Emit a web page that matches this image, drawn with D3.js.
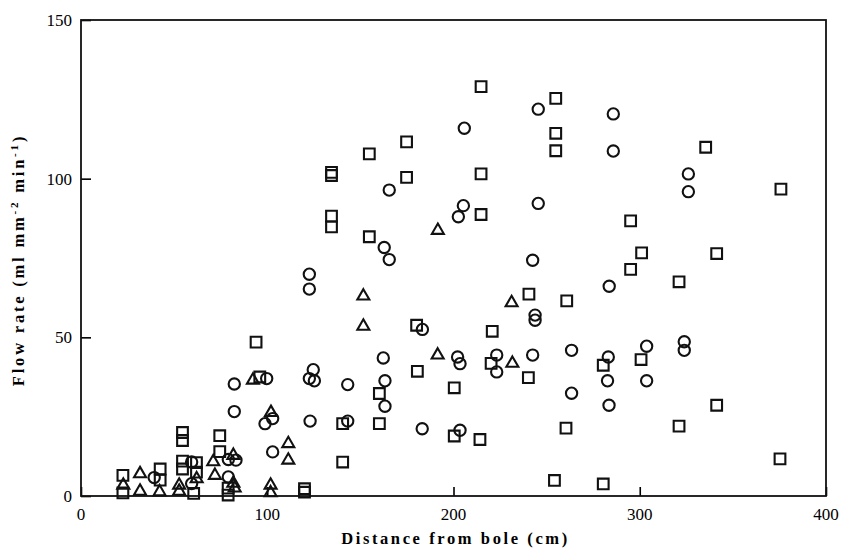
<!DOCTYPE html>
<html>
<head>
<meta charset="utf-8">
<script src="https://cdn.jsdelivr.net/npm/d3@7"></script>
<style>
  body { margin: 0; background: #fff; }
  svg { display: block; }
</style>
</head>
<body>
<div id="chart"></div>
<script>
// distance from bole (cm), flow rate (ml mm-2 min-1)
var squares = [
  [22.5, 6.5], [22.5, 1], [42.5, 8.5], [42.5, 5], [54.5, 20], [54.5, 17.5], [54.5, 11], [54.5, 8.5],
  [62, 10.5], [62, 7.5], [60.5, 0.8], [74.5, 19], [74.5, 14], [79, 2.5], [79, 0.3],
  [94, 48.5], [96, 37.5], [120, 2.3], [120, 1.2],
  [134.5, 102], [134.5, 101], [134.5, 88.2], [134.5, 84.8], [140.5, 22.8], [140.5, 10.7],
  [154.8, 107.8], [154.8, 81.7], [160.2, 32.3], [160.2, 22.8], [174.8, 111.6], [174.8, 100.4],
  [180.2, 53.8], [180.6, 39.3], [200.4, 34.1], [200.4, 18.9], [214.8, 129], [214.8, 101.5],
  [214.8, 88.7], [214.2, 17.8], [220.8, 51.9], [220.2, 41.8], [240.5, 63.6], [240.2, 37.3],
  [254.9, 125.3], [254.9, 114.3], [254.9, 108.8], [254.2, 4.9], [260.8, 61.5], [260.4, 21.4],
  [280.4, 41.2], [280.4, 3.8], [295.1, 86.7], [295.1, 71.4], [301, 76.6], [300.7, 43],
  [321.1, 67.5], [321.1, 22], [335.4, 109.9], [341.3, 76.4], [341.3, 28.6], [375.8, 96.7], [375.3, 11.7]
];

var circles = [
  [39.3, 5.8], [59.4, 10.7], [59.4, 3.9], [79.1, 11.5], [83.2, 11.3], [79.1, 6.0],
  [82.3, 35.3], [82.3, 26.6], [99.7, 37], [98.8, 22.8], [102.9, 24.4], [102.9, 13.9],
  [122.6, 69.9], [122.6, 65.2], [124.7, 39.8], [122.6, 37], [125.3, 36.3], [123, 23.6],
  [143.2, 35.1], [143.2, 23.6], [162.3, 43.5], [163.2, 36.3], [163.2, 28.3], [162.8, 78.3],
  [165.5, 74.5], [165.5, 96.4], [183.3, 52.5], [183.2, 21.2], [202.2, 43.8], [203.5, 41.7],
  [203.5, 20.7], [202.6, 88], [205.3, 91.5], [205.8, 115.9], [223.2, 44.4], [223.2, 39.1],
  [242.5, 44.4], [243.8, 57], [243.8, 55.4], [242.5, 74.3], [245.5, 92.2], [245.5, 121.9],
  [263.4, 45.9], [263.4, 32.4], [283.1, 43.8], [282.7, 36.3], [283.5, 28.6], [283.6, 66.1],
  [285.8, 108.7], [285.8, 120.4], [303.7, 47.2], [303.7, 36.3], [323.9, 48.6], [323.9, 45.9],
  [326.1, 101.5], [326.1, 95.9]
];

var triangles = [
  [22.7, 3.4], [31.7, 7], [31.7, 1.5], [42.2, 1.3], [52.7, 3.4], [52.7, 1.5], [62.1, 5.4],
  [71, 10.8], [71.9, 6.5], [81.8, 12.8], [81.8, 4], [82.5, 2.5], [92.3, 36.5], [102, 26.3],
  [101.8, 3.4], [101.8, 1.0], [111.3, 16.5], [111.3, 11.3], [151.6, 63], [151.6, 53.5],
  [191.6, 83.7], [191.5, 44.4], [231.2, 60.9], [231.6, 41.8]
];

var xTicks = [0, 100, 200, 300, 400];
var yTicks = [0, 50, 100, 150];

const margin = {top: 20, right: 15, bottom: 53, left: 81},
    width = 841 - margin.left - margin.right,
    height = 549 - margin.top - margin.bottom;

const svg = d3.select("#chart")
  .append("svg")
    .attr("width", 841)
    .attr("height", 549)
  .append("g")
    .attr("transform", `translate(${margin.left},${margin.top})`);

const x = d3.scaleLinear().domain([0, 400]).range([0, width]);
const y = d3.scaleLinear().domain([0, 150]).range([height, 0]);

const serif = "'Liberation Serif', 'DejaVu Serif', serif";

// inward ticks, labels drawn separately
svg.append("g")
  .attr("transform", `translate(0,${height})`)
  .call(d3.axisBottom(x).tickValues(xTicks).tickSize(-9).tickFormat(""))
  .call(g => g.select(".domain").remove())
  .call(g => g.selectAll("line").attr("stroke-width", 1.6));

svg.append("g")
  .call(d3.axisLeft(y).tickValues(yTicks).tickSize(-10).tickFormat(""))
  .call(g => g.select(".domain").remove())
  .call(g => g.selectAll("line").attr("stroke-width", 1.6));

// frame
svg.append("rect")
  .attr("x", 0).attr("y", 0)
  .attr("width", width).attr("height", height)
  .attr("fill", "none")
  .attr("stroke", "#111")
  .attr("stroke-width", 1.8);

// tick labels
svg.append("g").selectAll("text")
  .data(xTicks)
  .join("text")
    .attr("x", d => x(d))
    .attr("y", height + 24)
    .attr("text-anchor", "middle")
    .attr("font-family", serif)
    .attr("font-size", 17)
    .text(d => d);

svg.append("g").selectAll("text")
  .data(yTicks)
  .join("text")
    .attr("x", -9)
    .attr("y", d => y(d) + 6)
    .attr("text-anchor", "end")
    .attr("font-family", serif)
    .attr("font-size", 17)
    .text(d => d);

// axis titles
svg.append("text")
  .attr("x", width / 2 + 2)
  .attr("y", height + 48)
  .attr("text-anchor", "middle")
  .attr("font-family", serif)
  .attr("font-weight", "bold")
  .attr("font-size", 16.5)
  .attr("letter-spacing", 2.6)
  .text("Distance from bole (cm)");

const yt = svg.append("text")
  .attr("transform", `translate(${-57},${height / 2 + 2}) rotate(-90)`)
  .attr("text-anchor", "middle")
  .attr("font-family", serif)
  .attr("font-weight", "bold")
  .attr("font-size", 16.5)
  .attr("letter-spacing", 2.8);
yt.append("tspan").text("Flow rate (ml mm");
yt.append("tspan").attr("dy", -6).attr("font-size", 11).text("-2");
yt.append("tspan").attr("dy", 6).text(" min");
yt.append("tspan").attr("dy", -6).attr("font-size", 11).text("-1");
yt.append("tspan").attr("dy", 6).text(")");

// markers
function drawSeries(data, type, size) {
  svg.append("g").selectAll("path")
    .data(data)
    .join("path")
      .attr("transform", d => `translate(${x(d[0])},${y(d[1])})`)
      .attr("d", d3.symbol().type(type).size(size))
      .attr("fill", "none")
      .attr("stroke", "#111")
      .attr("stroke-width", 2.1);
}

drawSeries(squares, d3.symbolSquare, 115);
drawSeries(circles, d3.symbolCircle, 100);
drawSeries(triangles, d3.symbolTriangle, 62);
</script>
</body>
</html>
